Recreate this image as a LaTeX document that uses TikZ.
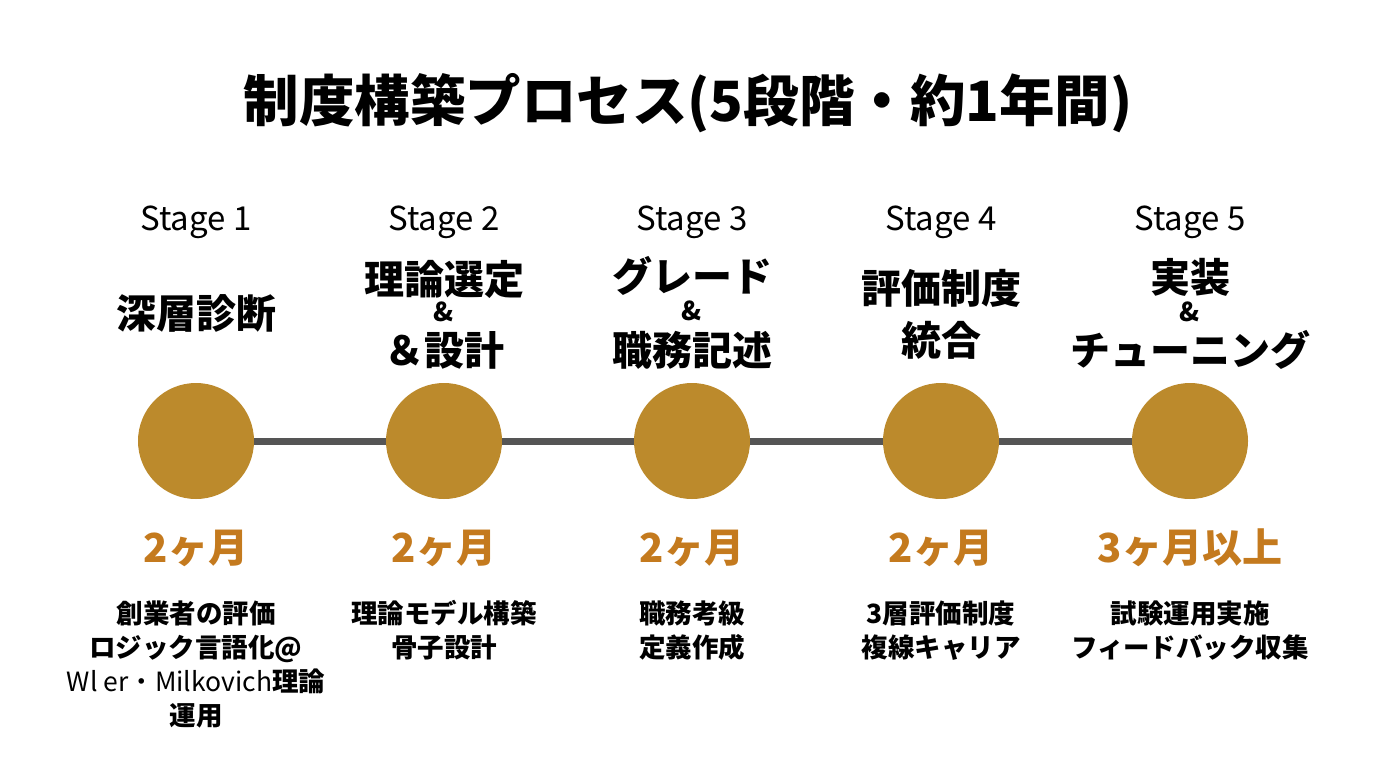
\documentclass[tikz,border=0pt]{standalone}
\usepackage{fontspec}
\setmainfont{Noto Sans CJK JP}
\usepackage{tikz}

\definecolor{gold}{HTML}{BC8A2C}
\definecolor{amber}{HTML}{C47A1E}
\definecolor{rail}{HTML}{555555}

\tikzset{
  stage/.style={font=\fontsize{33}{36}\selectfont},
  head/.style={font=\fontsize{40}{42}\selectfont\bfseries},
  amp/.style={font=\fontsize{26}{28}\selectfont\bfseries},
  dot/.style={circle,fill=gold,minimum size=116pt,inner sep=0pt},
  span/.style={font=\fontsize{40}{42}\selectfont\bfseries,text=amber},
  note/.style={font=\fontsize{26.5}{34}\selectfont\bfseries,align=center,anchor=north}
}

\begin{document}
\begin{tikzpicture}[x=1pt,y=-1pt]
\useasboundingbox[fill=white] (0,0) rectangle (1376,768);

\node[font=\fontsize{55.5}{58}\selectfont\bfseries] (title) at (688,103) {制度構築プロセス(5段階・約1年間)};

\node[stage] (s1) at (196,222) {Stage 1};
\node[stage] (s2) at (444,222) {Stage 2};
\node[stage] (s3) at (692,222) {Stage 3};
\node[stage] (s4) at (941,222) {Stage 4};
\node[stage] (s5) at (1190,222) {Stage 5};

\node[head] (h1) at (196,313) {深層診断};

\node[head] (h2a) at (444,279) {理論選定};
\node[amp] (h2b) at (444,312) {\&};
\node[head] (h2c) at (444,350) {＆設計};

\node[head] (h3a) at (692,276) {グレード};
\node[amp] (h3b) at (692,311) {\&};
\node[head] (h3c) at (692,350) {職務記述};

\node[head] (h4a) at (941,288) {評価制度};
\node[head] (h4b) at (941,340) {統合};

\node[head] (h5a) at (1190,277) {実装};
\node[amp] (h5b) at (1190,312) {\&};
\node[head] (h5c) at (1190,350) {チューニング};

\node[dot] (c1) at (196,441) {};
\node[dot] (c2) at (444,441) {};
\node[dot] (c3) at (692,441) {};
\node[dot] (c4) at (941,441) {};
\node[dot] (c5) at (1190,441) {};

\draw[rail,line width=7pt] (c1) -- (c2);
\draw[rail,line width=7pt] (c2) -- (c3);
\draw[rail,line width=7pt] (c3) -- (c4);
\draw[rail,line width=7pt] (c4) -- (c5);

\node[span] (m1) at (196,548) {2ヶ月};
\node[span] (m2) at (444,548) {2ヶ月};
\node[span] (m3) at (692,548) {2ヶ月};
\node[span] (m4) at (941,548) {2ヶ月};
\node[span] (m5) at (1190,548) {3ヶ月以上};

\node[note] (n1) at (196,597) {創業者の評価\\ロジック言語化@\\{\mdseries Wl er・Milkovich}理論\\運用};
\node[note] (n2) at (444,597) {理論モデル構築\\骨子設計};
\node[note] (n3) at (692,597) {職務考級\\定義作成};
\node[note] (n4) at (941,597) {3層評価制度\\複線キャリア};
\node[note] (n5) at (1190,597) {試験運用実施\\フィードバック収集};

\end{tikzpicture}
\end{document}
